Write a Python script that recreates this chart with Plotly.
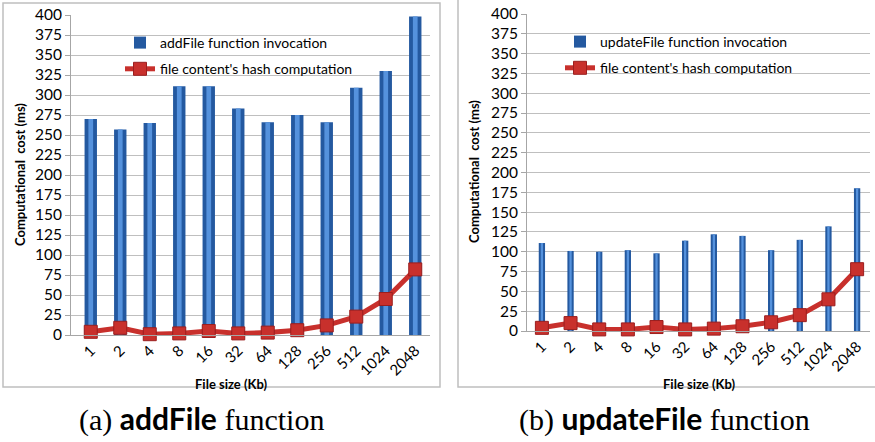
import plotly.graph_objects as go

sizes = ["1", "2", "4", "8", "16", "32", "64", "128", "256", "512", "1024", "2048"]
add_invocation = [270, 257, 265, 311, 311, 283, 266, 275, 266, 309, 330, 398]
add_hash = [4, 9, 1, 2, 5, 2, 3, 6, 12, 23, 45, 82]
upd_invocation = [111, 101, 100, 102, 98, 114, 122, 120, 102, 115, 132, 180]
upd_hash = [4, 10, 2, 2, 5, 2, 3, 6, 11, 20, 40, 78]

W, H = 875, 442
FONT = "Lato"
BAR_DARK = "#2459A0"
BAR_LIGHT = "#5592DD"
RED = "#C8302C"

fig = go.Figure()


def add_panel(xa, ya, legend, inv, hsh, inv_name, bw, hw):
    fig.add_trace(go.Bar(x=sizes, y=inv, name=inv_name, xaxis=xa, yaxis=ya,
                         width=bw, marker=dict(color=BAR_DARK, line=dict(width=0)),
                         legend=legend, legendgroup=legend + "a"))
    fig.add_trace(go.Bar(x=sizes, y=inv, xaxis=xa, yaxis=ya, width=hw,
                         marker=dict(color=BAR_LIGHT, line=dict(width=0)),
                         showlegend=False, hoverinfo="skip"))
    fig.add_trace(go.Scatter(x=sizes, y=hsh, name="file content's hash computation",
                             xaxis=xa, yaxis=ya, mode="lines+markers",
                             line=dict(color=RED, width=5),
                             marker=dict(symbol="square", size=13, color=RED,
                                         line=dict(color="#9A1E1E", width=1)),
                             cliponaxis=False, legend=legend, legendgroup=legend + "b"))


add_panel("x", "y", "legend", add_invocation, add_hash, "addFile function invocation", 0.42, 0.16)
add_panel("x2", "y2", "legend2", upd_invocation, upd_hash, "updateFile function invocation", 0.22, 0.08)

xcommon = dict(type="category", showgrid=False, showline=True, linecolor="#A6A6A6",
               linewidth=1, ticks="", tickangle=-45, automargin=False,
               tickfont=dict(family=FONT, size=15, color="#000"))
ycommon = dict(range=[0, 400], dtick=25, showgrid=True, gridcolor="#BFBFBF", gridwidth=1,
               showline=True, linecolor="#A6A6A6", linewidth=1, ticks="outside",
               ticklen=5, tickcolor="#A6A6A6", zeroline=False, automargin=False,
               tickfont=dict(family=FONT, size=15.5, color="#000"))

title_font = dict(family=FONT, size=13, color="#000")
cap_font = dict(family="Liberation Serif", size=30, color="#000")


def ann(text, x, y, font, angle=0):
    return dict(text=text, xref="paper", yref="paper", x=x / W, y=1 - y / H,
                showarrow=False, font=font, textangle=angle,
                xanchor="center", yanchor="middle")


fig.update_layout(
    width=W, height=H, margin=dict(l=0, r=0, t=0, b=0, autoexpand=False),
    paper_bgcolor="white", plot_bgcolor="white", barmode="overlay",
    xaxis=dict(xcommon, domain=[71 / W, 430 / W], range=[-0.67, 11.5], anchor="y"),
    yaxis=dict(ycommon, domain=[1 - 335 / H, 1 - 15 / H], anchor="x"),
    xaxis2=dict(xcommon, domain=[527 / W, 870 / W], range=[-0.52, 11.45], anchor="y2"),
    yaxis2=dict(ycommon, domain=[1 - 331 / H, 1 - 14 / H], anchor="x2"),
    legend=dict(x=120 / W, y=1 - 27 / H, xanchor="left", yanchor="top",
                bgcolor="rgba(0,0,0,0)", tracegroupgap=5,
                font=dict(family=FONT, size=14, color="#000")),
    legend2=dict(x=560 / W, y=1 - 26 / H, xanchor="left", yanchor="top",
                 bgcolor="rgba(0,0,0,0)", tracegroupgap=5,
                 font=dict(family=FONT, size=14, color="#000")),
    shapes=[
        dict(type="rect", xref="paper", yref="paper", x0=3 / W, x1=440 / W,
             y0=1 - 387 / H, y1=1 - 3 / H, line=dict(color="#BFBFBF", width=1.5)),
        dict(type="rect", xref="paper", yref="paper", x0=458 / W, x1=1.01,
             y0=1 - 387 / H, y1=1.01, line=dict(color="#BFBFBF", width=1.5)),
    ],
    annotations=[
        ann("<b>Computational  cost (ms)</b>", 20, 175, title_font, -90),
        ann("<b>Computational  cost (ms)</b>", 474, 172, title_font, -90),
        ann("<b>File size (Kb)</b>", 231, 384, title_font),
        ann("<b>File size (Kb)</b>", 699, 384, title_font),
        ann("(a) <span style='font-family:Lato'><b>addFile</b></span> function", 201, 418, cap_font),
        ann("(b) <span style='font-family:Lato'><b>updateFile</b></span> function", 664, 418, cap_font),
    ],
)

fig.write_html("out.html", config={"displayModeBar": False},
               post_script="document.body.style.margin='0';")
